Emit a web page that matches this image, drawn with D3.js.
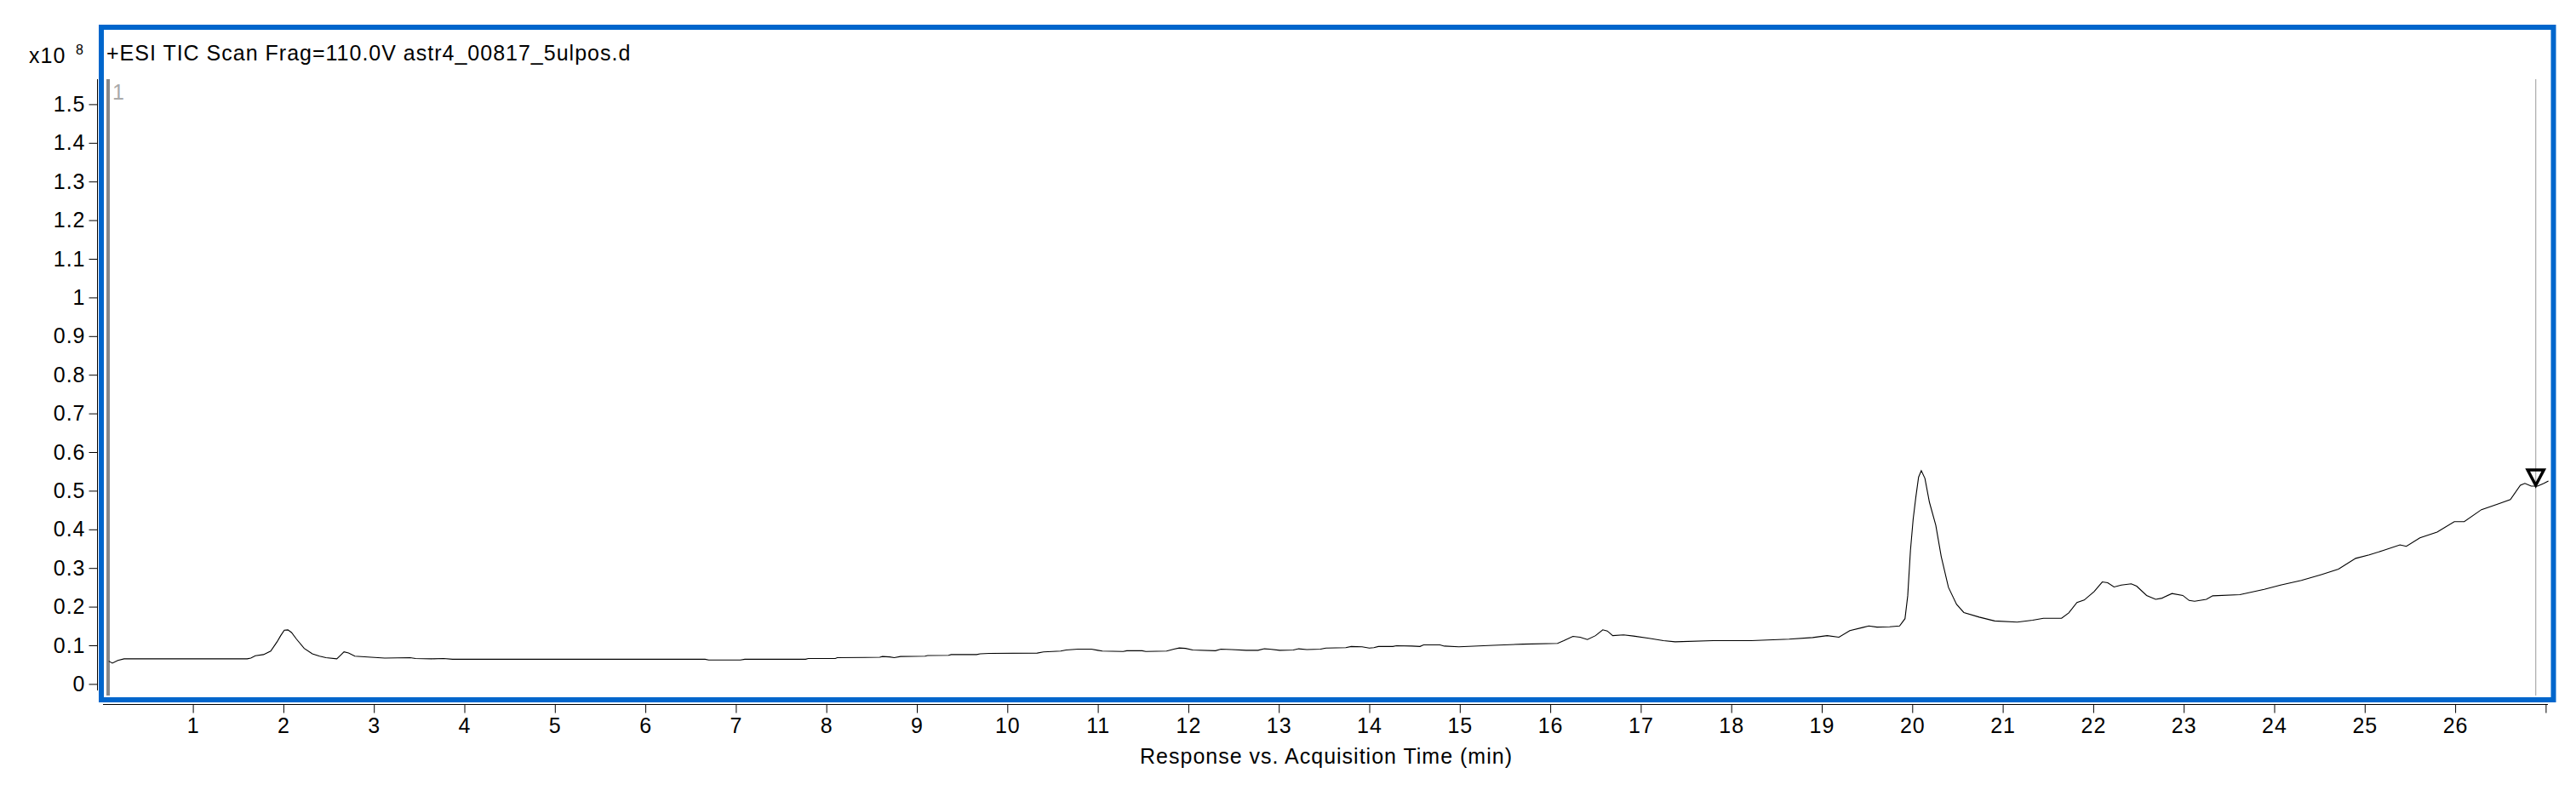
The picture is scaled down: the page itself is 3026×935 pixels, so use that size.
<!DOCTYPE html>
<html>
<head>
<meta charset="utf-8">
<script src="https://cdn.jsdelivr.net/npm/d3@7"></script>
<style>
  html, body { margin: 0; padding: 0; background: #fff; }
  svg { display: block; font-family: "Liberation Sans", Arial, sans-serif; }
</style>
</head>
<body>
<svg id="chart" width="3026" height="935"></svg>
<script>
// ---- data (x10^8 counts vs minutes) ----
const times = [
  0.07, 0.11, 0.17, 0.24, 0.8, 1.6, 1.64, 1.69, 1.78, 1.86, 1.93, 1.97, 2.01, 2.05, 2.09, 2.145,
  2.23, 2.32, 2.40, 2.47, 2.59, 2.63, 2.67, 2.72, 2.79, 2.97, 3.12, 3.40, 3.46, 3.64, 3.77, 3.87,
  5.0, 6.66, 6.7, 7.05, 7.1, 7.77, 7.8, 8.10, 8.12, 8.59, 8.62, 8.70, 8.75, 8.82, 9.09, 9.12,
  9.35, 9.38, 9.66, 9.70, 9.80, 10.33, 10.40, 10.59, 10.65, 10.78, 10.93, 11.00, 11.05, 11.28,
  11.32, 11.49, 11.53, 11.76, 11.84, 11.90, 11.97, 12.05, 12.30, 12.36, 12.48, 12.64, 12.77,
  12.84, 12.90, 13.01, 13.16, 13.22, 13.31, 13.46, 13.52, 13.74, 13.80, 13.92, 14.00, 14.05,
  14.10, 14.26, 14.30, 14.47, 14.56, 14.60, 14.78, 14.83, 14.99, 15.37, 15.70, 16.08, 16.15,
  16.25, 16.33, 16.41, 16.50, 16.58, 16.63, 16.69, 16.81, 16.92, 17.09, 17.25, 17.38, 17.80,
  18.22, 18.64, 18.90, 19.06, 19.19, 19.31, 19.45, 19.52, 19.61, 19.75, 19.86, 19.92, 19.95,
  19.98, 20.01, 20.04, 20.07, 20.10, 20.14, 20.19, 20.26, 20.32, 20.40, 20.49, 20.57, 20.74,
  20.91, 21.16, 21.33, 21.45, 21.65, 21.73, 21.82, 21.90, 22.01, 22.10, 22.16, 22.23, 22.31,
  22.42, 22.48, 22.59, 22.69, 22.76, 22.87, 22.99, 23.06, 23.12, 23.25, 23.32, 23.62, 23.89,
  24.07, 24.30, 24.52, 24.71, 24.90, 25.05, 25.20, 25.39, 25.46, 25.61, 25.80, 25.99, 26.10,
  26.29, 26.48, 26.61, 26.72, 26.77, 26.84, 26.91, 26.98, 27.03
];
const response = [
  0.059, 0.054, 0.061, 0.065, 0.065, 0.065, 0.067, 0.073, 0.076, 0.085, 0.109, 0.125, 0.139, 0.140, 0.133, 0.116,
  0.092, 0.078, 0.072, 0.068, 0.065, 0.074, 0.083, 0.080, 0.072, 0.069, 0.067, 0.068, 0.066, 0.065, 0.066, 0.064,
  0.064, 0.064, 0.062, 0.062, 0.064, 0.064, 0.066, 0.066, 0.068, 0.069, 0.071, 0.070, 0.068, 0.071, 0.072, 0.0735,
  0.074, 0.076, 0.076, 0.078, 0.079, 0.080, 0.083, 0.085, 0.088, 0.090, 0.090, 0.087, 0.085, 0.084,
  0.086, 0.086, 0.084, 0.085, 0.090, 0.093, 0.092, 0.088, 0.086, 0.090, 0.089, 0.087, 0.087,
  0.091, 0.090, 0.087, 0.088, 0.091, 0.089, 0.090, 0.093, 0.094, 0.097, 0.096, 0.093, 0.094,
  0.097, 0.097, 0.099, 0.098, 0.097, 0.101, 0.101, 0.098, 0.096, 0.100, 0.103, 0.105, 0.112,
  0.123, 0.121, 0.115, 0.125, 0.140, 0.137, 0.125, 0.127, 0.124, 0.118, 0.112, 0.109, 0.112,
  0.112, 0.116, 0.120, 0.125, 0.121, 0.138, 0.146, 0.150, 0.147, 0.148, 0.150, 0.169, 0.228,
  0.345, 0.426, 0.484, 0.535, 0.552, 0.532, 0.470, 0.411, 0.330, 0.250, 0.206, 0.185, 0.173,
  0.163, 0.160, 0.165, 0.170, 0.170, 0.184, 0.211, 0.217, 0.239, 0.264, 0.262, 0.251, 0.256,
  0.259, 0.253, 0.229, 0.219, 0.222, 0.234, 0.229, 0.216, 0.214, 0.219, 0.228, 0.231, 0.245,
  0.256, 0.268, 0.283, 0.297, 0.325, 0.334, 0.345, 0.360, 0.356, 0.378, 0.393, 0.420, 0.420,
  0.451, 0.466, 0.477, 0.514, 0.519, 0.512, 0.512, 0.519, 0.525
];
const xTicks = [1,2,3,4,5,6,7,8,9,10,11,12,13,14,15,16,17,18,19,20,21,22,23,24,25,26,27];
const xTickLabels = ["1","2","3","4","5","6","7","8","9","10","11","12","13","14","15","16","17","18","19","20","21","22","23","24","25","26",""];
const yTicks = [0,0.1,0.2,0.3,0.4,0.5,0.6,0.7,0.8,0.9,1,1.1,1.2,1.3,1.4,1.5];
const yTickLabels = ["0","0.1","0.2","0.3","0.4","0.5","0.6","0.7","0.8","0.9","1","1.1","1.2","1.3","1.4","1.5"];
const markerTime = [26.89];
const markerValue = [0.514];
const titleText = "+ESI TIC Scan Frag=110.0V astr4_00817_5ulpos.d";
const xAxisTitle = "Response vs. Acquisition Time (min)";
const yExponentBase = "x10";
const yExponent = "8";
const traceLabel = "1";

// ---- layout ----
const FONT = "Liberation Sans, Arial, sans-serif";
const svg = d3.select("#chart");
const x = d3.scaleLinear().domain([0, 27]).range([120.3, 2990.4]);
const y = d3.scaleLinear().domain([0, 1.5]).range([803.4, 122.4]);
const plotTop = 93, plotBottom = 811;

// blue frame
svg.append("rect")
  .attr("x", 119).attr("y", 32).attr("width", 2880.5).attr("height", 790)
  .attr("fill", "none").attr("stroke", "#0066CC").attr("stroke-width", 6);

// title
svg.append("text").attr("x", 125).attr("y", 71)
  .attr("font-size", 25).attr("letter-spacing", 1).attr("fill", "#000").text(titleText);

// exponent label
svg.append("text").attr("x", 34).attr("y", 74).attr("font-size", 25).attr("letter-spacing", 1)
  .attr("fill", "#000").text(yExponentBase);
svg.append("text").attr("x", 89).attr("y", 64).attr("font-size", 16).attr("fill", "#000").text(yExponent);

// y axis
const yAxis = d3.axisLeft(y).tickValues(yTicks)
  .tickFormat((d, i) => yTickLabels[i]).tickSize(10).tickSizeOuter(0).tickPadding(4);
const gy = svg.append("g").attr("transform", "translate(114.5,0)").call(yAxis);
gy.select(".domain").remove();
gy.selectAll("text").attr("font-size", 25).attr("letter-spacing", 1).attr("fill", "#000").attr("font-family", FONT);
gy.selectAll("line").attr("stroke", "#000");
svg.append("line").attr("x1", 114.5).attr("x2", 114.5).attr("y1", plotTop).attr("y2", plotBottom)
  .attr("stroke", "#000").attr("stroke-width", 1);

// x axis
const xAxis = d3.axisBottom(x).tickValues(xTicks)
  .tickFormat((d, i) => xTickLabels[i]).tickSize(10).tickSizeOuter(0).tickPadding(6);
const gx = svg.append("g").attr("transform", "translate(0,827.5)").call(xAxis);
gx.select(".domain").remove();
gx.selectAll("text").attr("font-size", 25).attr("letter-spacing", 1).attr("fill", "#000").attr("font-family", FONT);
gx.selectAll("line").attr("stroke", "#000");
svg.append("line").attr("x1", 121).attr("x2", 2993).attr("y1", 827.5).attr("y2", 827.5)
  .attr("stroke", "#000").attr("stroke-width", 1);

// x axis title
svg.append("text").attr("x", 1558).attr("y", 897).attr("text-anchor", "middle")
  .attr("font-size", 25).attr("letter-spacing", 1).attr("fill", "#000").text(xAxisTitle);

// left gray trace bar and label
svg.append("line").attr("x1", 127).attr("x2", 127).attr("y1", plotTop).attr("y2", 817)
  .attr("stroke", "#888").attr("stroke-width", 4);
svg.append("text").attr("x", 132).attr("y", 117).attr("font-size", 25).attr("fill", "#aaa").text(traceLabel);

// right gray cursor line
svg.append("line").attr("x1", x(markerTime[0])).attr("x2", x(markerTime[0]))
  .attr("y1", plotTop).attr("y2", 817).attr("stroke", "#aaa").attr("stroke-width", 1.2);

// chromatogram
const pts = times.map((t, i) => [t, response[i]]);
const line = d3.line().x(d => x(d[0])).y(d => y(d[1]));
svg.append("path").datum(pts).attr("d", line)
  .attr("fill", "none").attr("stroke", "#000").attr("stroke-width", 1.1);

// marker triangle (apex at point)
markerTime.forEach((t, i) => {
  const mx = x(t), my = y(markerValue[i]);
  svg.append("path")
    .attr("d", `M${mx - 9.5},${my - 18} L${mx + 9.5},${my - 18} L${mx},${my} Z`)
    .attr("fill", "none").attr("stroke", "#000").attr("stroke-width", 3.5).attr("stroke-linejoin", "miter");
});
</script>
</body>
</html>
